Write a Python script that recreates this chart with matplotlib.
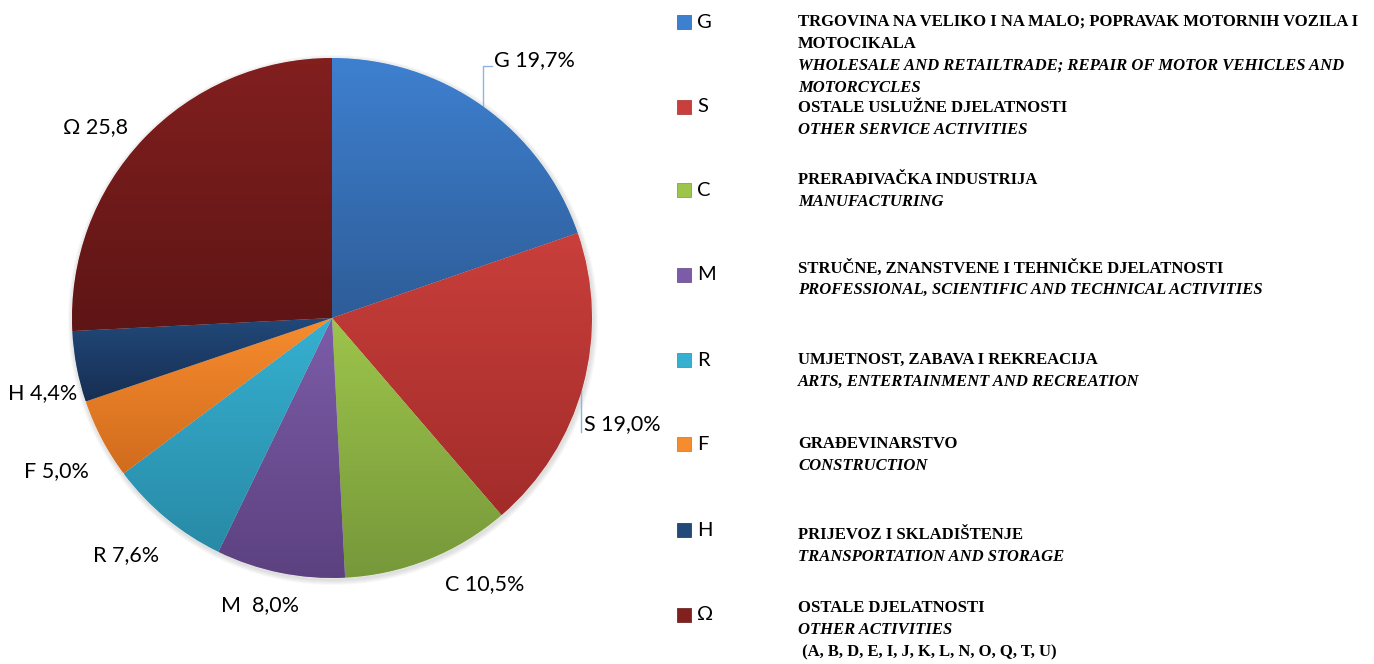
import matplotlib.pyplot as plt
import numpy as np
from matplotlib.colors import LinearSegmentedColormap
from matplotlib.patches import Circle

# data
codes = ['G', 'S', 'C', 'M', 'R', 'F', 'H', 'Ω']
shares = [19.7, 19.0, 10.5, 8.0, 7.6, 5.0, 4.4, 25.8]
pie_labels = ['G 19,7%', 'S 19,0%', 'C 10,5%', 'M  8,0%', 'R 7,6%', 'F 5,0%', 'H 4,4%', 'Ω 25,8']
names_hr = ['TRGOVINA NA VELIKO I NA MALO; POPRAVAK MOTORNIH VOZILA I\nMOTOCIKALA',
            'OSTALE USLUŽNE DJELATNOSTI',
            'PRERAĐIVAČKA INDUSTRIJA',
            'STRUČNE, ZNANSTVENE I TEHNIČKE DJELATNOSTI',
            'UMJETNOST, ZABAVA I REKREACIJA',
            'GRAĐEVINARSTVO',
            'PRIJEVOZ I SKLADIŠTENJE',
            'OSTALE DJELATNOSTI']
names_en = ['WHOLESALE AND RETAILTRADE; REPAIR OF MOTOR VEHICLES AND\nMOTORCYCLES',
            'OTHER SERVICE ACTIVITIES',
            'MANUFACTURING',
            'PROFESSIONAL, SCIENTIFIC AND TECHNICAL ACTIVITIES',
            'ARTS, ENTERTAINMENT AND RECREATION',
            'CONSTRUCTION',
            'TRANSPORTATION AND STORAGE',
            'OTHER ACTIVITIES']
other_note = ' (A, B, D, E, I, J, K, L, N, O, Q, T, U)'

# colours (top / bottom of gradient)
top_cols = ['#3E80D0', '#C93F3B', '#9DC44B', '#7C5CA8', '#36B0D0', '#F78C2E', '#21497A', '#821F1F']
bot_cols = ['#2E5D98', '#A22C2A', '#76983A', '#5C4180', '#288AA6', '#D16C1E', '#172E52', '#5E1515']

# layout (pixels)
W, H = 1374, 664
cx, cy, rad = 332, 318, 260
lab_dist = [1.26, 1.19, 1.18, 1.14, 1.21, 1.21, 1.15, 1.17]
lab_shift = [-2.7, -5, 8, -2.5, -1.4, 1.3, 3.7, 4.6]
leg_mark_y = [22, 107, 190, 275, 360, 444, 530, 615]
leg_text_y = [22, 108, 180, 268, 360, 444, 535, 608]

fig = plt.figure(figsize=(W / 100, H / 100), dpi=100)
ax = fig.add_axes([0, 0, 1, 1])
ax.set_xlim(0, W)
ax.set_ylim(0, H)
ax.axis('off')

lab_font = 'Lato'
leg_font = 'Liberation Serif'

# soft shadow round the pie
for k in range(1, 6):
    ax.add_patch(Circle((cx + 1, H - cy - 2), rad + k, color='grey', alpha=0.05, lw=0, zorder=0))

wedges, _ = ax.pie(shares, center=(cx, H - cy), radius=rad, startangle=90,
                   counterclock=False, colors=top_cols,
                   wedgeprops=dict(edgecolor='white', linewidth=0.4))

grad = np.linspace(0, 1, 256).reshape(-1, 1)
for w, c1, c2 in zip(wedges, top_cols, bot_cols):
    v = w.get_path().vertices
    cmap = LinearSegmentedColormap.from_list('g', [c2, c1])
    im = ax.imshow(grad, cmap=cmap, origin='lower', aspect='auto',
                   extent=[v[:, 0].min(), v[:, 0].max(), v[:, 1].min(), v[:, 1].max()],
                   zorder=w.get_zorder() + 0.1)
    im.set_clip_path(w)

ax.set_xlim(0, W)
ax.set_ylim(0, H)

# slice labels
for i, w in enumerate(wedges):
    mid = np.deg2rad((w.theta1 + w.theta2) / 2 + lab_shift[i])
    tx = cx + rad * lab_dist[i] * np.cos(mid)
    ty = H - cy + rad * lab_dist[i] * np.sin(mid)
    if i in (0, 1):
        emid = np.deg2rad((w.theta1 + w.theta2) / 2)
        ex = cx + rad * np.cos(emid)
        ey = H - cy + rad * np.sin(emid)
        if i == 0:
            ax.plot([ex, ex, tx - 42], [ey, ty - 6, ty - 6], color='#8DB4E2', lw=1, zorder=1)
        else:
            ax.plot([ex - 2, ex - 2], [ey, ty - 8], color='#8DB4E2', lw=1, zorder=1)
    ax.text(tx, ty, pie_labels[i], ha='center', va='center', fontsize=15.5,
            family=lab_font, color='black')

# legend
for i in range(len(codes)):
    ym = H - leg_mark_y[i]
    ax.scatter([684], [ym], marker='s', s=95, color=top_cols[i], edgecolors=bot_cols[i],
               linewidths=0.5, zorder=3)
    ax.text(697, ym, codes[i], ha='left', va='center', fontsize=14.5, family=lab_font)
    lines = [(t, 'normal') for t in names_hr[i].split('\n')]
    lines += [(t, 'italic') for t in names_en[i].split('\n')]
    if codes[i] == 'Ω':
        lines.append((other_note, 'normal'))
    for j, (t, st) in enumerate(lines):
        ax.text(798, H - leg_text_y[i] - 22 * j, t, ha='left', va='center',
                fontsize=12, family=leg_font, weight='bold', style=st)

fig.savefig('out.png', dpi=100)
